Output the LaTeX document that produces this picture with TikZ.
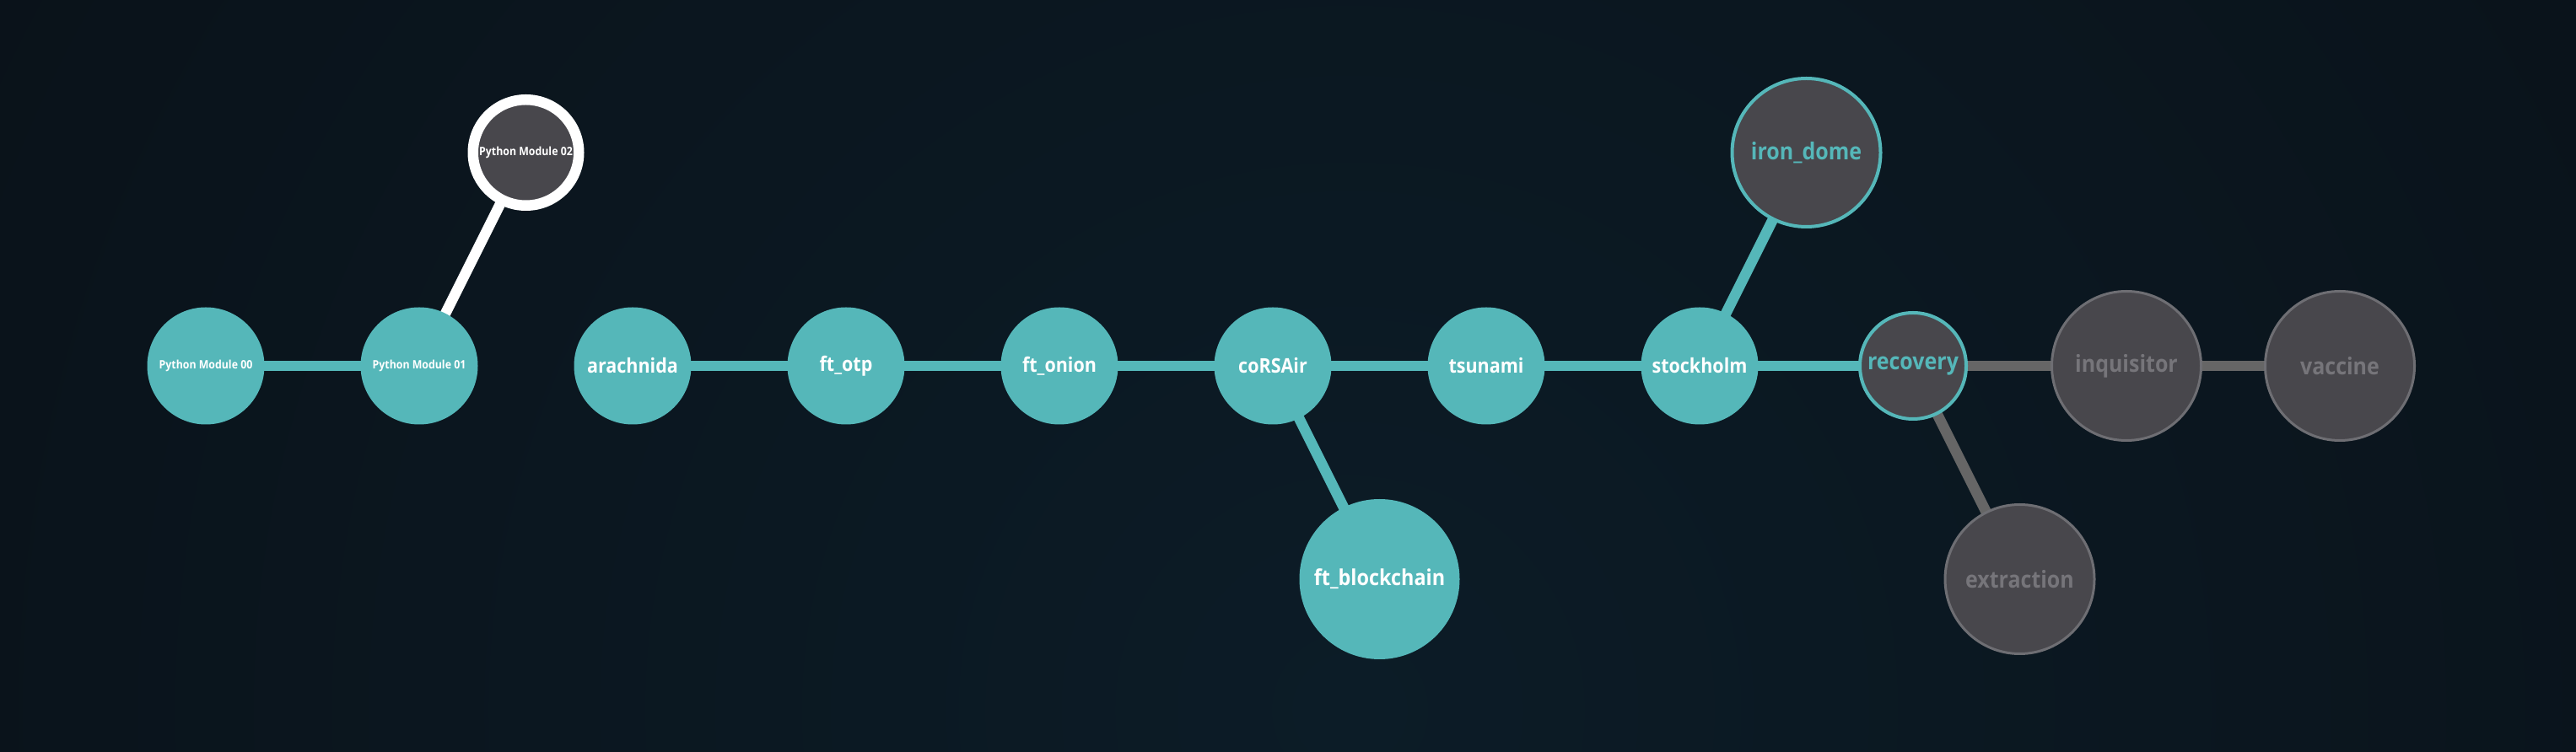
\documentclass[tikz,border=0pt]{standalone}
\usepackage{fontspec}
\setmainfont{Open Sans}[FakeStretch=0.9]
\usepackage{tikz}
\usetikzlibrary{calc}

\definecolor{tealdone}{HTML}{55B7B9}
\definecolor{nodegray}{HTML}{48474C}
\definecolor{edgegray}{HTML}{666666}
\definecolor{ringgray}{HTML}{6E6E73}
\definecolor{textgray}{HTML}{76757A}
\definecolor{bgout}{HTML}{090E14}
\definecolor{bgin}{HTML}{0C1C27}

\pgfdeclarelayer{bg}
\pgfdeclarelayer{edges}
\pgfsetlayers{bg,edges,main}

\tikzset{
  base/.style={circle, inner sep=0pt, font=\bfseries\fontsize{6.8}{8}\selectfont},
  bigfont/.style={font=\bfseries\fontsize{7.9}{9}\selectfont},
  done/.style={base, fill=tealdone, text=white, minimum size=1.39cm},
  bigdone/.style={base, fill=tealdone, text=white, minimum size=1.9cm, font=\bfseries\fontsize{7.4}{9}\selectfont},
  current/.style={base, bigfont, fill=nodegray, draw=tealdone, line width=0.04cm, text=tealdone},
  locked/.style={base, bigfont, fill=nodegray, draw=ringgray, line width=0.03cm, text=textgray, minimum size=1.77cm},
  pymod/.style={done, font=\bfseries\fontsize{3.9}{5}\selectfont},
  link/.style={line width=0.125cm, tealdone},
}

\begin{document}
\begin{tikzpicture}
  \useasboundingbox (0,0) rectangle (30.54,8.92);
  % 背景
  \begin{pgfonlayer}{bg}
    \clip (0,0) rectangle (30.54,8.92);
    \fill[bgout] (0,0) rectangle (30.54,8.92);
    \shade[inner color=bgin, outer color=bgout] (16,0.5) circle (26);
  \end{pgfonlayer}

  % Python 模块
  \node[pymod] (py00) at (2.44,4.58) {Python Module 00};
  \node[pymod] (py01) at (4.97,4.58) {Python Module 01};
  \node[base, fill=nodegray, draw=white, line width=0.125cm, text=white,
        minimum size=1.255cm, font=\bfseries\fontsize{3.9}{5}\selectfont]
        (py02) at (6.235,7.11) {Python Module 02};

  % 主线
  \node[done] (arachnida) at (7.50,4.58) {arachnida};
  \node[done] (ftotp) at (10.03,4.58) {ft\_otp};
  \node[done] (ftonion) at (12.56,4.58) {ft\_onion};
  \node[done] (corsair) at (15.09,4.58) {coRSAir};
  \node[bigdone] (ftblock) at (16.355,2.05) {ft\_blockchain};
  \node[done] (tsunami) at (17.62,4.58) {tsunami};
  \node[done] (stockholm) at (20.15,4.58) {stockholm};
  \node[current, minimum size=1.76cm] (irondome) at (21.415,7.11) {iron\_dome};
  \node[current, minimum size=1.26cm] (recovery) at (22.68,4.58) {recovery};

  % 未解锁
  \node[locked] (extraction) at (23.945,2.05) {extraction};
  \node[locked] (inquisitor) at (25.21,4.58) {inquisitor};
  \node[locked] (vaccine) at (27.74,4.58) {vaccine};

  % 连线
  \begin{pgfonlayer}{edges}
    \draw[link] (py00.center) -- (py01.center);
    \draw[link, white] (py01.center) -- (py02.center);
    \draw[link] (arachnida.center) -- (ftotp.center) -- (ftonion.center) -- (corsair.center)
                -- (tsunami.center) -- (stockholm.center) -- (recovery.center);
    \draw[link] (corsair.center) -- (ftblock.center);
    \draw[link] (stockholm.center) -- (irondome.center);
    \draw[link, edgegray] (recovery.center) -- (inquisitor.center) -- (vaccine.center);
    \draw[link, edgegray] (recovery.center) -- (extraction.center);
  \end{pgfonlayer}
\end{tikzpicture}
\end{document}
